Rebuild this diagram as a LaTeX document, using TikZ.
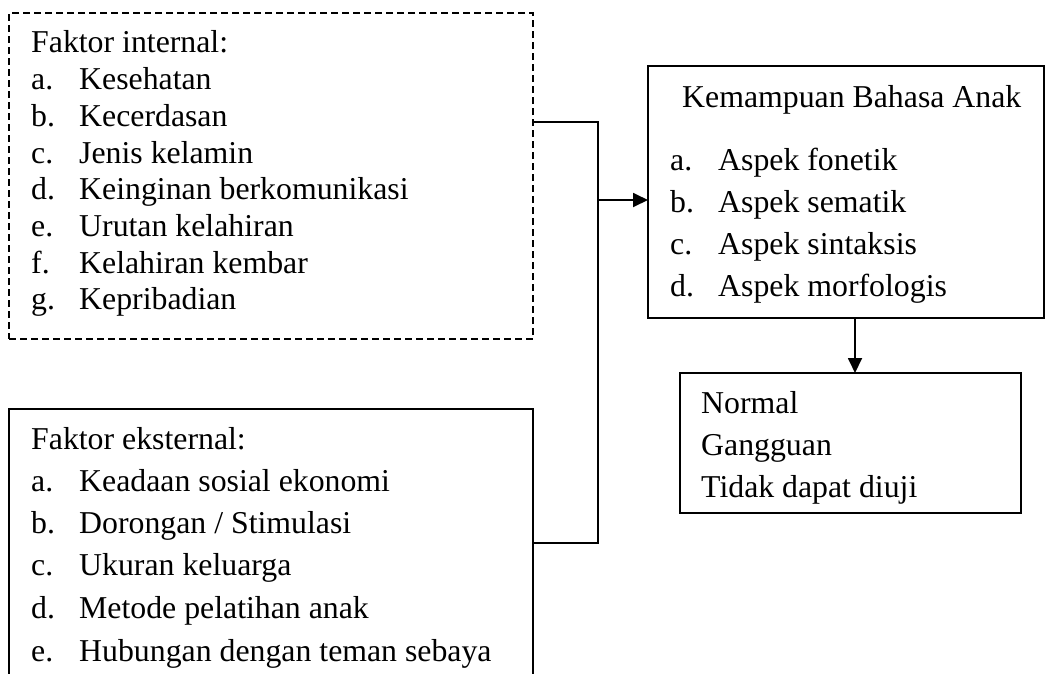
\documentclass[tikz,border=0pt]{standalone}
\usepackage{fontspec}
\setmainfont{Liberation Serif}
\usetikzlibrary{arrows.meta}
\begin{document}
\begin{tikzpicture}[x=1pt,y=-1pt,
  boxs/.style={draw, line width=1.8pt, inner sep=0pt, outer sep=0pt, anchor=north west},
  dbox/.style={draw, line width=1.3pt, dash pattern=on 7pt off 4pt, inner sep=0pt, outer sep=0pt, anchor=north west},
  txt/.style={anchor=base west, inner sep=0pt, font=\fontsize{31.8}{38}\selectfont},
  conn/.style={line width=1.8pt},
  arr/.style={line width=1.8pt, -{Triangle[length=15pt,width=14pt]}}]
\useasboundingbox (0,0) rectangle (1046,673);
\clip (0,0) rectangle (1046,673);
\fill[white] (0,0) rectangle (1046,673);
% boxes
\node[dbox, minimum width=524pt, minimum height=326pt] (int) at (9,13) {};
\node[boxs, minimum width=524pt, minimum height=300pt] (ext) at (9,409) {};
\node[boxs, minimum width=396pt, minimum height=252pt] (kem) at (648,66) {};
\node[boxs, minimum width=341pt, minimum height=140pt] (res) at (680,373) {};
% internal texts
\node[txt] (i0) at (31,52) {Faktor internal:};
\node[txt] (ia) at (31,89) {a.};  \node[txt] (iat) at (79,89) {Kesehatan};
\node[txt] (ib) at (31,126) {b.}; \node[txt] (ibt) at (79,126) {Kecerdasan};
\node[txt] (ic) at (31,163) {c.}; \node[txt] (ict) at (79,163) {Jenis kelamin};
\node[txt] (id) at (31,199) {d.}; \node[txt] (idt) at (79,199) {Keinginan berkomunikasi};
\node[txt] (ie) at (31,236) {e.}; \node[txt] (iet) at (79,236) {Urutan kelahiran};
\node[txt] (if) at (31,273) {f.}; \node[txt] (ift) at (79,273) {Kelahiran kembar};
\node[txt] (ig) at (31,309) {g.}; \node[txt] (igt) at (79,309) {Kepribadian};
% external texts
\node[txt] (e0) at (31,449) {Faktor eksternal:};
\node[txt] (ea) at (31,491) {a.};  \node[txt] (eat) at (79,491) {Keadaan sosial ekonomi};
\node[txt] (eb) at (31,533) {b.};  \node[txt] (ebt) at (79,533) {Dorongan / Stimulasi};
\node[txt] (ec) at (31,575) {c.};  \node[txt] (ect) at (79,575) {Ukuran keluarga};
\node[txt] (ed) at (31,618) {d.};  \node[txt] (edt) at (79,618) {Metode pelatihan anak};
\node[txt] (ee) at (31,661) {e.};  \node[txt] (eet) at (79,661) {Hubungan dengan teman sebaya};
% kemampuan texts
\node[txt] (k0) at (682,107) {Kemampuan Bahasa Anak};
\node[txt] (ka) at (670,170) {a.}; \node[txt] (kat) at (718,170) {Aspek fonetik};
\node[txt] (kb) at (670,212) {b.}; \node[txt] (kbt) at (718,212) {Aspek sematik};
\node[txt] (kc) at (670,254) {c.}; \node[txt] (kct) at (718,254) {Aspek sintaksis};
\node[txt] (kd) at (670,296) {d.}; \node[txt] (kdt) at (718,296) {Aspek morfologis};
% result texts
\node[txt] (r1) at (701,413) {Normal};
\node[txt] (r2) at (701,455) {Gangguan};
\node[txt] (r3) at (701,497) {Tidak dapat diuji};
% connectors
\coordinate (j1) at (598,122);
\coordinate (j2) at (598,200);
\coordinate (j3) at (598,543);
\coordinate (d1) at (855,318);
\draw[conn] (int.east |- j1) -- (j1) -- (j3) -- (ext.east |- j3);
\draw[arr] (j2) -- (kem.west |- j2);
\draw[arr] (kem.south -| d1) -- (res.north -| d1);
\end{tikzpicture}
\end{document}
